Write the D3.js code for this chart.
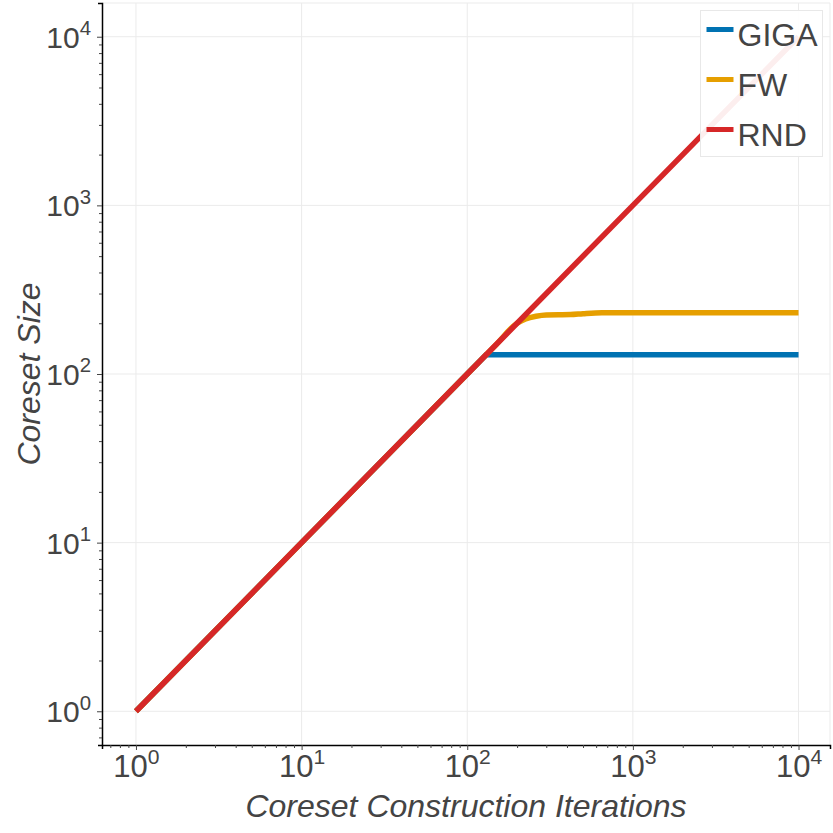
<!DOCTYPE html>
<html>
<head>
<meta charset="utf-8">
<script src="https://cdn.jsdelivr.net/npm/d3@7"></script>
<style>
  body { margin: 0; background: #fff; }
  svg { display: block; font-family: "Liberation Sans", Arial, sans-serif; }
</style>
</head>
<body>
<div id="chart"></div>
<script>
// series (iterations -> coreset size)
const seriesNames = ["GIGA", "FW", "RND"];
const seriesColors = ["#0072b2", "#e69f00", "#d62728"];

const gigaIter = [1, 10, 100, 130, 10000];
const gigaSize = [1, 10, 100, 130, 130];

const fwIter = [1, 10, 100, 150, 200, 225, 260, 300, 420, 500, 650, 1000, 10000];
const fwSize = [1, 10, 100, 150, 200, 212, 220, 224, 225, 228, 231, 231, 231];

const rndIter = [1, 10, 100, 1000, 10000];
const rndSize = [1, 10, 100, 1000, 10000];

const majorTicks = [1, 10, 100, 1000, 10000];
const tickExponents = ["0", "1", "2", "3", "4"];

const width = 833, height = 833;
const margin = { top: 3, right: 3, bottom: 88, left: 102 };

const x = d3.scaleLog()
  .domain([Math.pow(10, -0.205), Math.pow(10, 4.19)])
  .range([margin.left, width - margin.right]);
const y = d3.scaleLog()
  .domain([Math.pow(10, -0.2), Math.pow(10, 4.2)])
  .range([height - margin.bottom, margin.top]);

const minorTicks = [0.7, 0.8, 0.9];
majorTicks.forEach((m) => {
  for (let k = 2; k <= 9; k++) minorTicks.push(m * k);
});
const xMinor = minorTicks.filter((d) => d > x.domain()[0] && d < x.domain()[1]);
const yMinor = minorTicks.filter((d) => d > y.domain()[0] && d < y.domain()[1]);

const svg = d3.select("#chart").append("svg")
  .attr("width", width).attr("height", height);

// grid
const gGrid = svg.append("g").attr("stroke", "#ebebeb").attr("stroke-width", 1);
gGrid.selectAll(".gx").data(majorTicks).join("line")
  .attr("class", "gx")
  .attr("x1", (d) => x(d)).attr("x2", (d) => x(d))
  .attr("y1", margin.top).attr("y2", height - margin.bottom);
gGrid.selectAll(".gy").data(majorTicks).join("line")
  .attr("class", "gy")
  .attr("y1", (d) => y(d)).attr("y2", (d) => y(d))
  .attr("x1", margin.left).attr("x2", width - margin.right);
gGrid.append("line")
  .attr("x1", margin.left).attr("x2", width - margin.right)
  .attr("y1", margin.top).attr("y2", margin.top);
gGrid.append("line")
  .attr("x1", width - margin.right).attr("x2", width - margin.right)
  .attr("y1", margin.top).attr("y2", height - margin.bottom);

// lines
const lineStraight = d3.line()
  .x((d) => x(d[0]))
  .y((d) => y(d[1]));
const lineSmooth = d3.line()
  .x((d) => x(d[0]))
  .y((d) => y(d[1]))
  .curve(d3.curveMonotoneX);

const series = [
  { name: seriesNames[0], color: seriesColors[0], values: d3.zip(gigaIter, gigaSize), line: lineStraight },
  { name: seriesNames[1], color: seriesColors[1], values: d3.zip(fwIter, fwSize), line: lineSmooth },
  { name: seriesNames[2], color: seriesColors[2], values: d3.zip(rndIter, rndSize), line: lineStraight },
];

svg.append("g").selectAll("path").data(series).join("path")
  .attr("fill", "none")
  .attr("stroke", (d) => d.color)
  .attr("stroke-width", 5.5)
  .attr("d", (d) => d.line(d.values));

// axes
function labelTicks(g) {
  g.selectAll(".tick text").each(function (d) {
    const i = majorTicks.indexOf(d);
    const t = d3.select(this).text(null);
    if (i < 0) return;
    t.append("tspan").text("10");
    t.append("tspan")
      .attr("font-size", "0.68em")
      .attr("dy", "-0.62em")
      .text(tickExponents[i]);
  });
}

const gX = svg.append("g")
  .attr("transform", `translate(0,${height - margin.bottom})`)
  .call(d3.axisBottom(x).tickValues(majorTicks.concat(xMinor)).tickSize(4).tickPadding(6));
gX.select(".domain").attr("stroke", "#000").attr("stroke-width", 1.5);
gX.selectAll(".tick line").attr("stroke", "#444")
  .attr("y2", (d) => (majorTicks.includes(d) ? 5 : 3));
gX.selectAll(".tick text")
  .attr("font-size", 31).attr("fill", "#444")
  .attr("dy", null).attr("y", 32);
labelTicks(gX);

const gY = svg.append("g")
  .attr("transform", `translate(${margin.left},0)`)
  .call(d3.axisLeft(y).tickValues(majorTicks.concat(yMinor)).tickSize(4).tickPadding(7));
gY.select(".domain").attr("stroke", "#000").attr("stroke-width", 1.5);
gY.selectAll(".tick line").attr("stroke", "#444")
  .attr("x2", (d) => (majorTicks.includes(d) ? -5 : -3));
gY.selectAll(".tick text")
  .attr("font-size", 30).attr("fill", "#444")
  .attr("dy", "0.35em");
labelTicks(gY);

// axis titles
svg.append("text")
  .attr("x", (margin.left + width - margin.right) / 2)
  .attr("y", 817)
  .attr("text-anchor", "middle")
  .attr("font-size", 32)
  .attr("font-style", "italic")
  .attr("fill", "#444")
  .text("Coreset Construction Iterations");

svg.append("text")
  .attr("transform", `translate(40,${(margin.top + height - margin.bottom) / 2}) rotate(-90)`)
  .attr("text-anchor", "middle")
  .attr("font-size", 32)
  .attr("font-style", "italic")
  .attr("fill", "#444")
  .text("Coreset Size");

// legend
const legend = svg.append("g").attr("transform", "translate(700.5,10.5)");
legend.append("rect")
  .attr("width", 122).attr("height", 146)
  .attr("fill", "#fff").attr("fill-opacity", 0.92)
  .attr("stroke", "#e8e8e8");
const item = legend.selectAll(".item").data(series).join("g")
  .attr("transform", (d, i) => `translate(0,${19 + i * 50})`);
item.append("line")
  .attr("x1", 6).attr("x2", 33)
  .attr("stroke", (d) => d.color).attr("stroke-width", 5);
item.append("text")
  .attr("x", 37).attr("y", 16)
  .attr("font-size", 32).attr("fill", "#444")
  .text((d) => d.name);
</script>
</body>
</html>
